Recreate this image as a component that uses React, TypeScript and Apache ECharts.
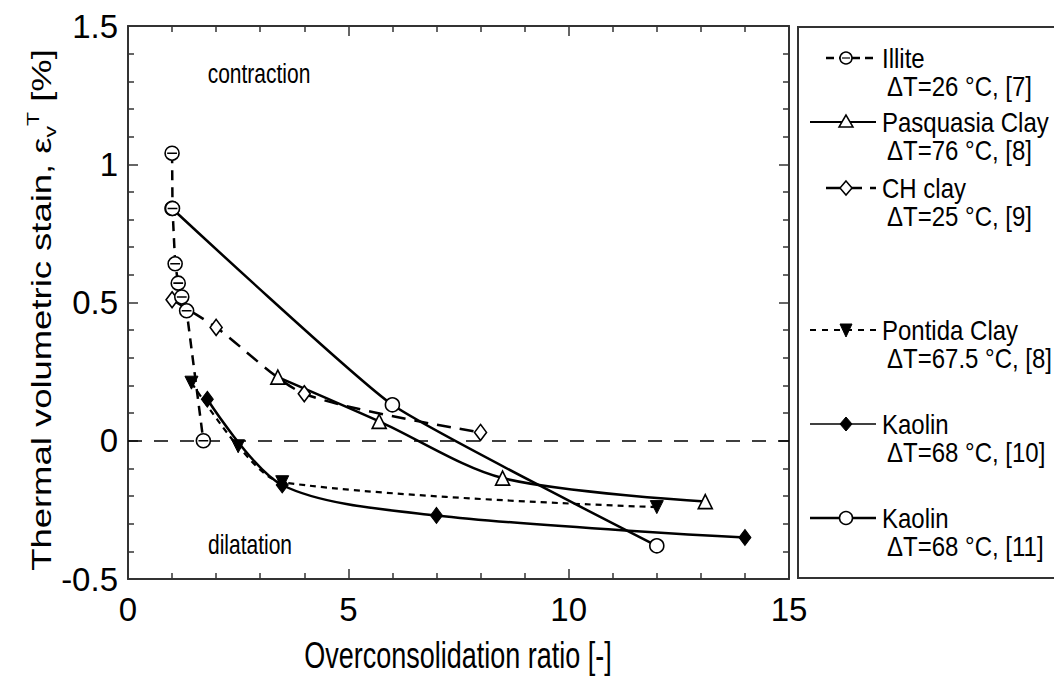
import React, { useEffect, useRef } from "react";
import * as echarts from "echarts";

// ---- data ----
const illiteX = [1.0, 1.01, 1.07, 1.14, 1.22, 1.33, 1.71];
const illiteY = [1.04, 0.84, 0.64, 0.57, 0.52, 0.47, 0.0];
const pasquasiaX = [3.4, 5.7, 8.5, 13.1];
const pasquasiaY = [0.23, 0.07, -0.135, -0.22];
const chClayX = [1.0, 2.0, 4.0, 8.0];
const chClayY = [0.51, 0.41, 0.17, 0.03];
const pontidaX = [1.44, 2.5, 3.5, 12.0];
const pontidaY = [0.21, -0.02, -0.15, -0.24];
const kaolin10X = [1.8, 3.5, 7.0, 14.0];
const kaolin10Y = [0.15, -0.16, -0.27, -0.35];
const kaolin11X = [1.0, 6.0, 12.0];
const kaolin11Y = [0.84, 0.13, -0.38];

const legendNames = ["Illite", "Pasquasia Clay", "CH clay", "Pontida Clay", "Kaolin", "Kaolin"];
const legendDT = [
  "ΔT=26 °C, [7]",
  "ΔT=76 °C, [8]",
  "ΔT=25 °C, [9]",
  "ΔT=67.5 °C, [8]",
  "ΔT=68 °C, [10]",
  "ΔT=68 °C, [11]",
];

const xTicks = { min: 0, max: 15, interval: 5 };
const yTicks = { min: -0.5, max: 1.5, interval: 0.5 };

const FONT = "'Liberation Sans', Arial, Helvetica, sans-serif";
const NARROW = "'Liberation Sans Narrow', 'Arial Narrow', 'Liberation Sans', Arial, sans-serif";
const STRETCH = 1.35;

function zip(xs: number[], ys: number[]) {
  return xs.map((x, i) => [x, ys[i]]);
}

const ILLITE_SYMBOL = "path://M10,0A10,10,0,1,1,10,20A10,10,0,1,1,10,0ZM3,10L17,10";

export default function App() {
  const ref = useRef<HTMLDivElement>(null);

  useEffect(() => {
    document.body.style.margin = "0";
    if (!ref.current) return;
    const chart = echarts.init(ref.current, undefined, { renderer: "svg" });

    const hollow = { color: "#fff", borderColor: "#000", borderWidth: 1.6 };
    const filled = { color: "#000", borderColor: "#000", borderWidth: 1 };

    // legend graphics
    const lg: any[] = [];
    lg.push({
      type: "rect",
      shape: { x: 798, y: 27, width: 262, height: 551 },
      style: { fill: "none", stroke: "#333", lineWidth: 2 },
      silent: true,
    });
    const rowY = [58, 122, 188, 330, 424, 518];
    const mx = 846;
    const lineDefs = [
      { x1: 826, x2: 876, dash: [8, 5], w: 2.5 },
      { x1: 810, x2: 876, dash: null, w: 2 },
      { x1: 826, x2: 876, dash: [14, 8], w: 2.5 },
      { x1: 810, x2: 880, dash: [6, 6], w: 2 },
      { x1: 810, x2: 876, dash: null, w: 1.6 },
      { x1: 810, x2: 876, dash: null, w: 2.5 },
    ];
    legendNames.forEach((nm, i) => {
      const y = rowY[i];
      const d = lineDefs[i];
      lg.push({
        type: "line",
        shape: { x1: d.x1, y1: y, x2: d.x2, y2: y },
        style: { stroke: "#000", lineWidth: d.w, lineDash: d.dash || undefined },
        silent: true,
      });
      let m: any;
      if (i === 0) {
        lg.push({ type: "circle", shape: { cx: mx, cy: y, r: 6 }, style: { fill: "#fff", stroke: "#000", lineWidth: 1.5 } });
        m = { type: "line", shape: { x1: mx - 4, y1: y, x2: mx + 4, y2: y }, style: { stroke: "#000", lineWidth: 1.2 } };
      } else if (i === 1) {
        m = { type: "polygon", shape: { points: [[mx, y - 7], [mx - 7, y + 5], [mx + 7, y + 5]] }, style: { fill: "#fff", stroke: "#000", lineWidth: 1.5 } };
      } else if (i === 2) {
        m = { type: "polygon", shape: { points: [[mx, y - 7], [mx + 6, y], [mx, y + 7], [mx - 6, y]] }, style: { fill: "#fff", stroke: "#000", lineWidth: 1.5 } };
      } else if (i === 3) {
        m = { type: "polygon", shape: { points: [[mx - 6, y - 6], [mx + 6, y - 6], [mx, y + 7]] }, style: { fill: "#000", stroke: "#000", lineWidth: 1 } };
      } else if (i === 4) {
        m = { type: "polygon", shape: { points: [[mx, y - 7], [mx + 6, y], [mx, y + 7], [mx - 6, y]] }, style: { fill: "#000", stroke: "#000", lineWidth: 1 } };
      } else {
        m = { type: "circle", shape: { cx: mx, cy: y, r: 6.5 }, style: { fill: "#fff", stroke: "#000", lineWidth: 1.5 } };
      }
      lg.push(m);
      lg.push({
        type: "text",
        x: 882,
        y: y,
        scaleY: 1.15,
        style: { text: nm, font: `24px ${FONT}`, fill: "#000", verticalAlign: "middle", align: "left" },
      });
      lg.push({
        type: "text",
        x: 887,
        y: y + 28,
        scaleY: 1.15,
        style: { text: legendDT[i], font: `24px ${FONT}`, fill: "#000", verticalAlign: "middle", align: "left" },
      });
    });

    const axisLineStyle = { color: "#333", width: 2 };

    const option: any = {
      animation: false,
      backgroundColor: "#fff",
      textStyle: { fontFamily: FONT },
      grid: { left: 128, right: 265, top: 26, bottom: 98, containLabel: false },
      xAxis: [
        {
          type: "value",
          position: "bottom",
          min: xTicks.min,
          max: xTicks.max,
          interval: xTicks.interval,
          axisLine: { show: true, lineStyle: axisLineStyle, onZero: false },
          axisTick: { show: true, inside: true, length: 10, lineStyle: { color: "#333", width: 1.5 } },
          minorTick: { show: true, splitNumber: 5, length: 6, lineStyle: { color: "#333", width: 1.5 } },
          splitLine: { show: false },
          axisLabel: { color: "#000", fontSize: 33, fontFamily: NARROW, margin: 14 },
        },
        {
          type: "value",
          position: "top",
          min: xTicks.min,
          max: xTicks.max,
          interval: xTicks.interval,
          axisLine: { show: true, lineStyle: axisLineStyle, onZero: false },
          axisTick: { show: true, inside: true, length: 10, lineStyle: { color: "#333", width: 1.5 } },
          minorTick: { show: true, splitNumber: 5, length: 6, lineStyle: { color: "#333", width: 1.5 } },
          splitLine: { show: false },
          axisLabel: { show: false },
        },
      ],
      yAxis: [
        {
          type: "value",
          position: "left",
          min: yTicks.min,
          max: yTicks.max,
          interval: yTicks.interval,
          axisLine: { show: true, lineStyle: axisLineStyle, onZero: false },
          axisTick: { show: true, inside: true, length: 10, lineStyle: { color: "#333", width: 1.5 } },
          minorTick: { show: true, splitNumber: 5, length: 6, lineStyle: { color: "#333", width: 1.5 } },
          splitLine: { show: false },
          axisLabel: { color: "#000", fontSize: 33, fontFamily: NARROW, margin: 10 },
        },
        {
          type: "value",
          position: "right",
          min: yTicks.min,
          max: yTicks.max,
          interval: yTicks.interval,
          axisLine: { show: true, lineStyle: axisLineStyle, onZero: false },
          axisTick: { show: true, inside: true, length: 10, lineStyle: { color: "#333", width: 1.5 } },
          minorTick: { show: true, splitNumber: 5, length: 6, lineStyle: { color: "#333", width: 1.5 } },
          splitLine: { show: false },
          axisLabel: { show: false },
        },
      ],
      series: [
        {
          name: "Illite",
          type: "line",
          data: zip(illiteX, illiteY),
          symbol: ILLITE_SYMBOL,
          symbolSize: 14,
          itemStyle: hollow,
          lineStyle: { color: "#000", width: 2.5, type: [10, 7] },
          z: 5,
          markLine: {
            silent: true,
            symbol: ["none", "none"],
            label: { show: false },
            lineStyle: { color: "#000", width: 1.5, type: [14, 12] },
            data: [{ yAxis: 0 }],
          },
        },
        {
          name: "Pasquasia Clay",
          type: "line",
          data: zip(pasquasiaX, pasquasiaY),
          symbol: "triangle",
          symbolSize: 14,
          smooth: 0.3,
          itemStyle: hollow,
          lineStyle: { color: "#000", width: 2.5 },
          z: 4,
        },
        {
          name: "CH clay",
          type: "line",
          data: zip(chClayX, chClayY),
          symbol: "diamond",
          symbolSize: [12, 16],
          smooth: 0.25,
          itemStyle: hollow,
          lineStyle: { color: "#000", width: 2.5, type: [14, 9] },
          z: 4,
        },
        {
          name: "Pontida Clay",
          type: "line",
          data: zip(pontidaX, pontidaY),
          symbol: "triangle",
          symbolRotate: 180,
          symbolSize: 13,
          smooth: 0.3,
          itemStyle: filled,
          lineStyle: { color: "#000", width: 2.2, type: [6, 5] },
          z: 4,
        },
        {
          name: "Kaolin [10]",
          type: "line",
          data: zip(kaolin10X, kaolin10Y),
          symbol: "diamond",
          symbolSize: [12, 16],
          smooth: 0.3,
          itemStyle: filled,
          lineStyle: { color: "#000", width: 2.5 },
          z: 4,
        },
        {
          name: "Kaolin [11]",
          type: "line",
          data: zip(kaolin11X, kaolin11Y),
          symbol: "circle",
          symbolSize: 14,
          smooth: 0.15,
          itemStyle: hollow,
          lineStyle: { color: "#000", width: 2.5 },
          z: 4,
        },
      ],
      graphic: [
        {
          type: "text",
          x: 259,
          y: 73,
          scaleY: STRETCH,
          style: { text: "contraction", font: `21px ${FONT}`, fill: "#000", align: "center", verticalAlign: "middle" },
        },
        {
          type: "text",
          x: 250,
          y: 544,
          scaleY: STRETCH,
          style: { text: "dilatation", font: `21px ${FONT}`, fill: "#000", align: "center", verticalAlign: "middle" },
        },
        {
          type: "text",
          x: 458,
          y: 655,
          scaleY: STRETCH,
          style: { text: "Overconsolidation ratio [-]", font: `27px ${FONT}`, fill: "#000", align: "center", verticalAlign: "middle" },
        },
        {
          type: "text",
          x: 42,
          y: 310,
          rotation: Math.PI / 2,
          scaleX: STRETCH,
          style: {
            text: "Thermal volumetric stain, ε{sub|v}{sup|T} [%]",
            font: `27px ${FONT}`,
            fill: "#000",
            align: "center",
            verticalAlign: "middle",
            rich: {
              sub: { fontSize: 17, fontFamily: FONT, fill: "#000", verticalAlign: "bottom", lineHeight: 34 },
              sup: { fontSize: 17, fontFamily: FONT, fill: "#000", verticalAlign: "top", lineHeight: 34 },
            },
          },
        },
        ...lg,
      ],
    };

    chart.setOption(option);
    return () => chart.dispose();
  }, []);

  return <div ref={ref} style={{ width: 1054, height: 677 }} />;
}
